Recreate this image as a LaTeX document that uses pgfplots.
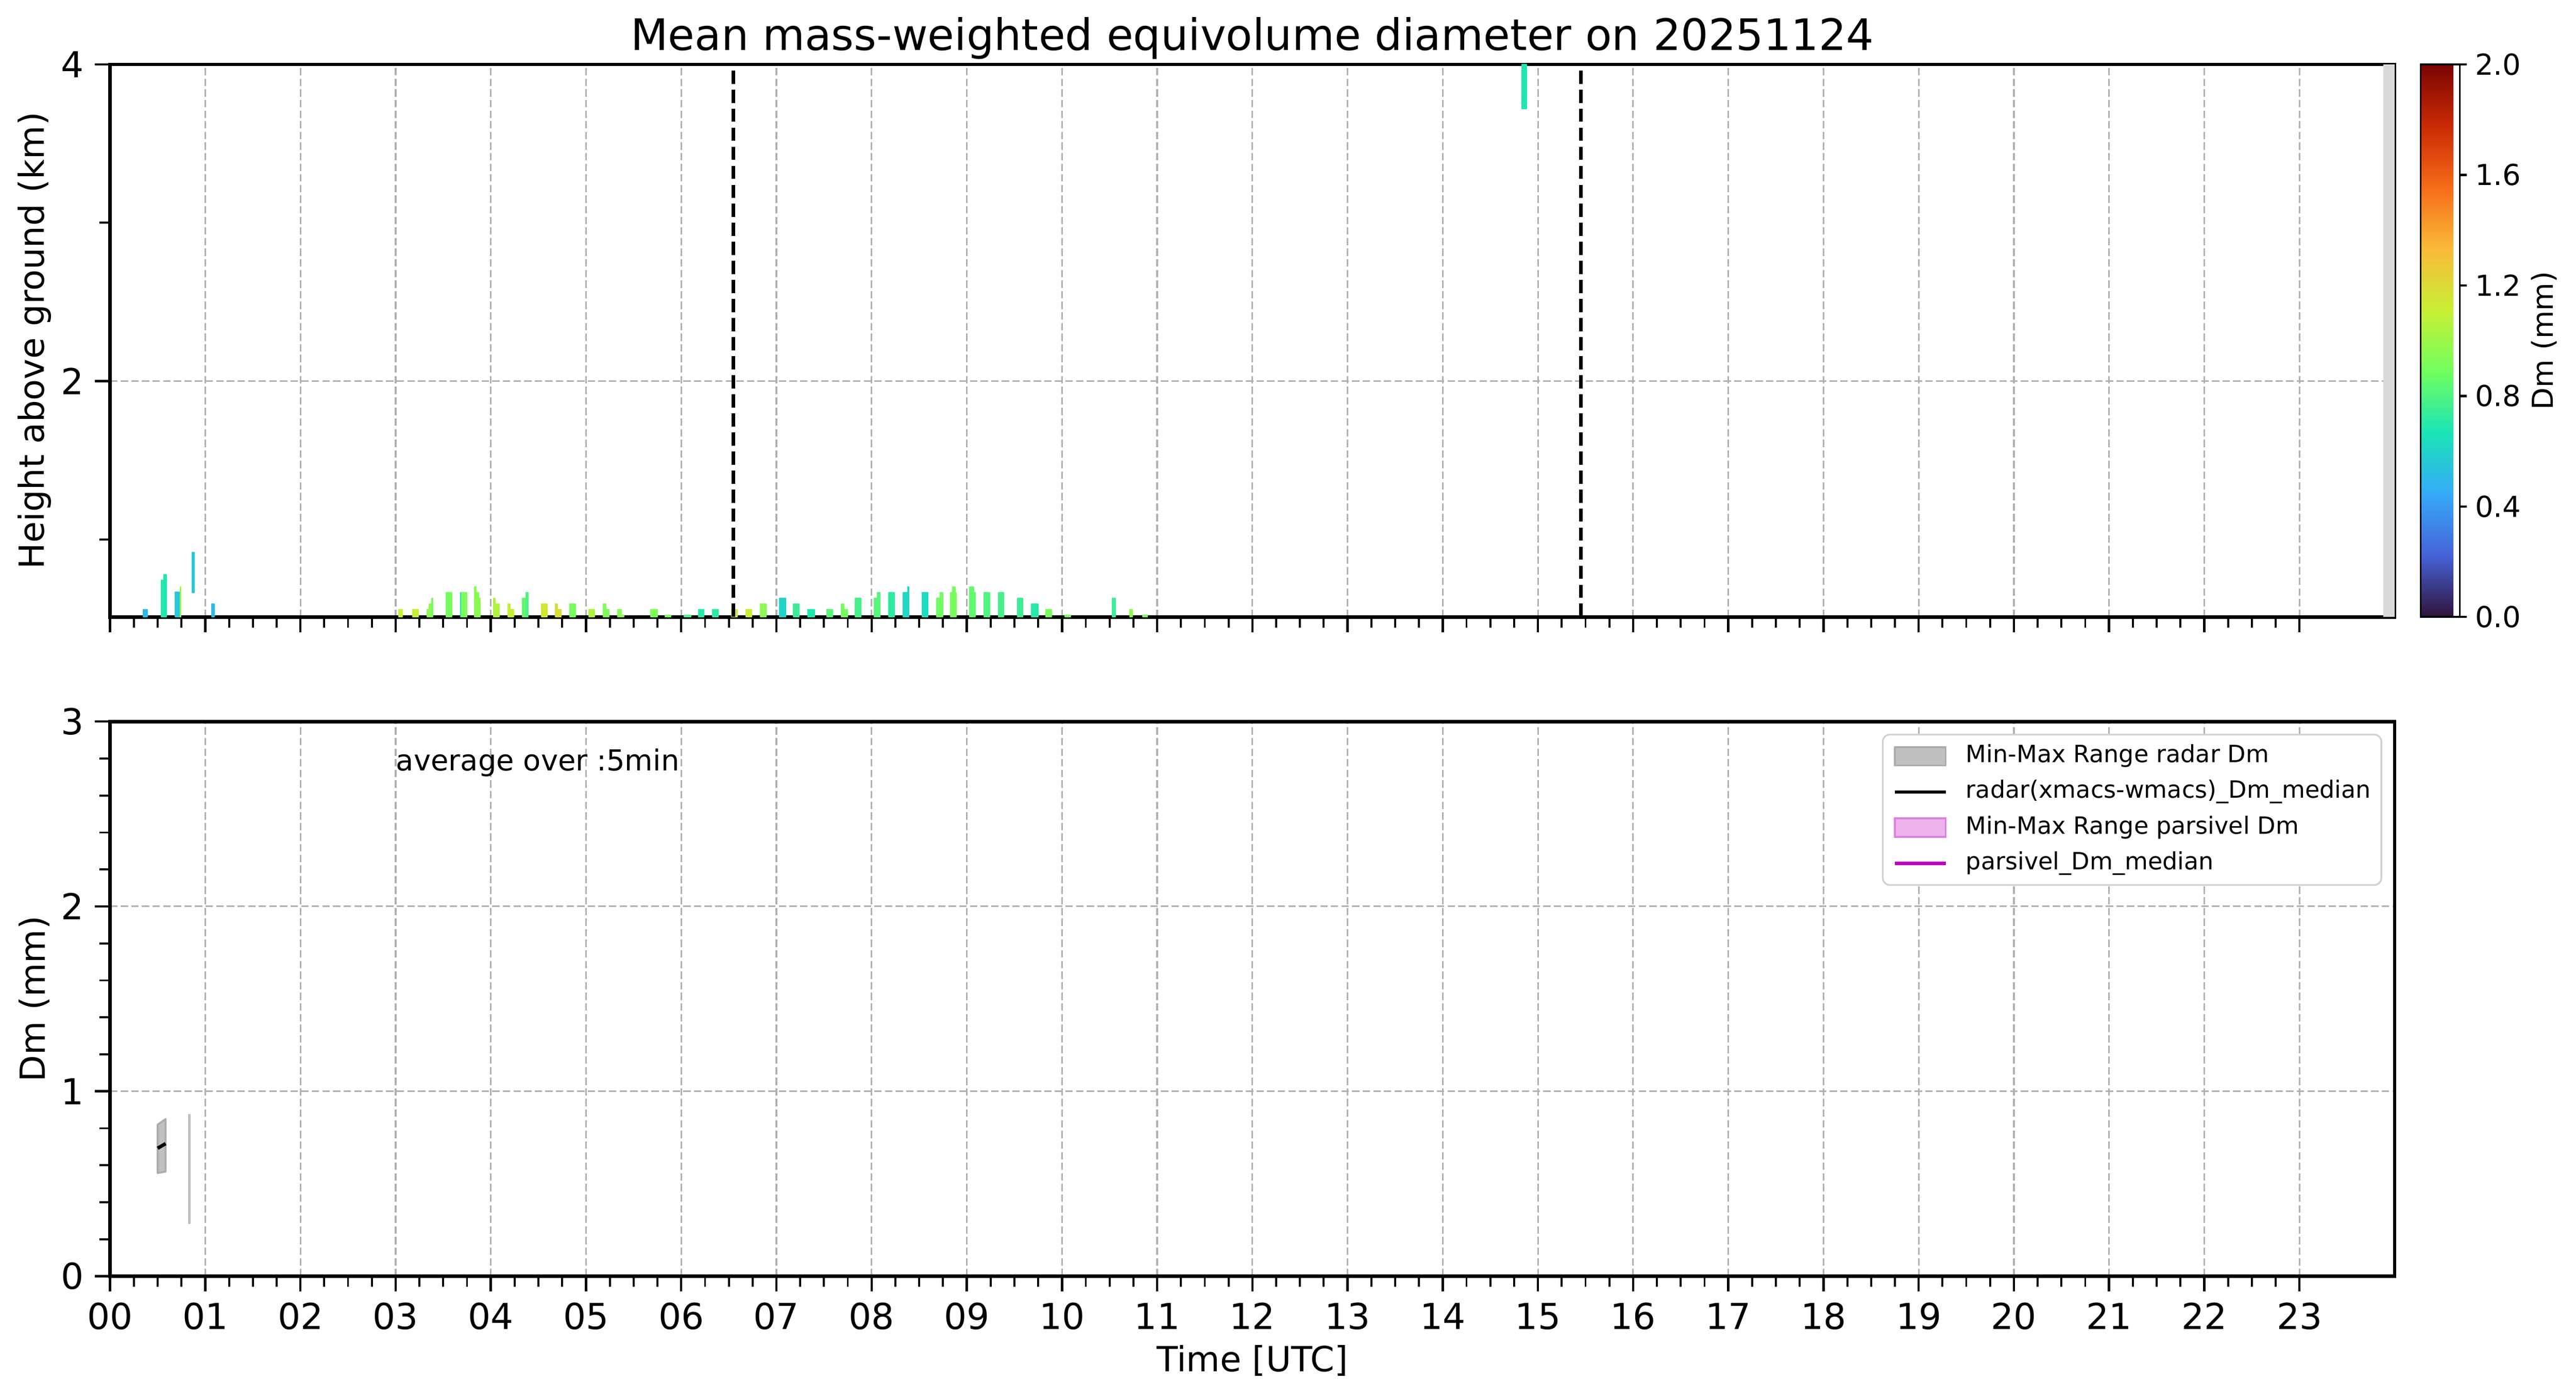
\documentclass[border=0pt]{standalone}
\usepackage{fontspec}
\setmainfont{DejaVu Sans}
\usepackage{pgfplots}
\pgfplotsset{compat=1.18}
\usepgfplotslibrary{patchplots}
\definecolor{gridc}{RGB}{176,176,176}
\definecolor{bandfill}{RGB}{192,192,192}
\definecolor{bandedge}{RGB}{172,172,172}
\definecolor{pinkfill}{RGB}{236,179,236}
\definecolor{pinkedge}{RGB}{224,127,224}
\definecolor{magentaline}{RGB}{191,0,191}
\definecolor{shadec}{RGB}{217,217,217}
\pgfplotsset{
  colormap={turbo}{rgb255=(48,18,59) rgb255=(70,98,215) rgb255=(54,170,249) rgb255=(26,228,182) rgb255=(114,254,94) rgb255=(200,239,52) rgb255=(250,186,57) rgb255=(246,107,25) rgb255=(202,42,4) rgb255=(122,4,3)},
  mainax/.style={
    scale only axis, width=990pt,
    xmin=0, xmax=24,
    xtick={0,1,...,23}, minor x tick num=3,
    tick align=outside, tick pos=left,
    major tick length=6.6pt, minor tick length=4.6pt,
    major tick style={black, line width=1pt},
    minor tick style={black, line width=0.85pt},
    axis line style={black, line width=1.5pt},
    grid=major,
    major grid style={gridc, line width=0.7pt, dash pattern=on 3.2pt off 1.4pt},
    tick label style={font=\fontsize{15.5}{18}\selectfont},
    xticklabel style={anchor=north, inner sep=0pt, yshift=-4.8pt},
    yticklabel style={anchor=east, inner sep=0pt, xshift=-4.5pt},
    label style={font=\fontsize{15}{18}\selectfont},
    ylabel style={at={([xshift=-32.8pt]rel axis cs:0,0.5)}, anchor=center},
  },
  patchlegend/.style={legend image code/.code={\draw[##1, sharp corners, line width=0.85pt] (0pt,-4pt) rectangle (22pt,4pt);}},
  linelegend/.style={legend image code/.code={\draw[##1, sharp corners] (0pt,0pt) -- (22pt,0pt);}},
}
\begin{document}
\begin{tikzpicture}
\useasboundingbox (0,0) rectangle (1116.3pt,604.65pt);
% ---------------- top panel ----------------
\begin{axis}[mainax, name=top,
  height=239.4pt, at={(47.7pt,337.35pt)}, anchor=south west,
  ymin=0.51, ymax=4,
  xticklabels={},
  ytick={2,4}, yticklabels={2,4}, minor ytick={1,3},
  ylabel={Height above ground (km)},
  title={Mean mass-weighted equivolume diameter on 20251124},
  every axis title/.style={at={(0.5,1)}, anchor=base, yshift=6.15pt, font=\fontsize{18.8}{22}\selectfont},
  colorbar, colormap name=turbo,
  point meta min=0, point meta max=2,
  colorbar shift/.style={},
  colorbar style={
    at={(parent axis.north east)}, anchor=north west, xshift=11.25pt,
    scale only axis, width=16.95pt, height=239.4pt,
    ytick={0,0.4,0.8,1.2,1.6,2},
    yticklabels={0.0,0.4,0.8,1.2,1.6,2.0},
    ytick pos=right, yticklabel pos=right,
    tick align=outside,
    major tick length=3pt,
    major tick style={black, line width=1pt},
    axis line style={black, line width=0.8pt},
    yticklabel style={font=\fontsize{12.5}{15}\selectfont, anchor=west, inner sep=0pt, xshift=3.45pt},
    ylabel={Dm (mm)},
    ylabel style={font=\fontsize{12.5}{15}\selectfont, at={([xshift=36.5pt]rel axis cs:1,0.5)}, anchor=center},
  },
]
\addplot[patch, patch type=rectangle, shader=flat, point meta=explicit] table[row sep=\\, meta=c] {
x y c\\
0.35 0.51 0.5\\ 0.39 0.51 0.5\\ 0.39 0.557 0.5\\ 0.35 0.557 0.5\\
0.535 0.51 0.7\\ 0.564 0.51 0.7\\ 0.564 0.742 0.7\\ 0.535 0.742 0.7\\
0.564 0.51 0.68\\ 0.592 0.51 0.68\\ 0.592 0.777 0.68\\ 0.564 0.777 0.68\\
0.683 0.51 0.55\\ 0.735 0.51 0.55\\ 0.735 0.667 0.55\\ 0.683 0.667 0.55\\
0.735 0.51 1.0\\ 0.742 0.51 1.0\\ 0.742 0.70 1.0\\ 0.735 0.70 1.0\\
0.862 0.663 0.55\\ 0.885 0.663 0.55\\ 0.885 0.917 0.55\\ 0.862 0.917 0.55\\
1.07 0.51 0.5\\ 1.095 0.51 0.5\\ 1.095 0.592 0.5\\ 1.07 0.592 0.5\\
3.03 0.51 1.1\\ 3.07 0.51 1.1\\ 3.07 0.557 1.1\\ 3.03 0.557 1.1\\
3.18 0.51 1.1\\ 3.24 0.51 1.1\\ 3.24 0.557 1.1\\ 3.18 0.557 1.1\\
3.33 0.51 0.95\\ 3.35 0.51 0.95\\ 3.35 0.557 0.95\\ 3.33 0.557 0.95\\
3.35 0.51 0.95\\ 3.38 0.51 0.95\\ 3.38 0.592 0.95\\ 3.35 0.592 0.95\\
3.38 0.51 0.9\\ 3.39 0.51 0.9\\ 3.39 0.628 0.9\\ 3.38 0.628 0.9\\
3.53 0.51 0.9\\ 3.59 0.51 0.9\\ 3.59 0.663 0.9\\ 3.53 0.663 0.9\\
3.68 0.51 0.65\\ 3.695 0.51 0.65\\ 3.695 0.663 0.65\\ 3.68 0.663 0.65\\
3.695 0.51 0.92\\ 3.75 0.51 0.92\\ 3.75 0.663 0.92\\ 3.695 0.663 0.92\\
3.83 0.51 0.95\\ 3.845 0.51 0.95\\ 3.845 0.70 0.95\\ 3.83 0.70 0.95\\
3.845 0.51 0.95\\ 3.87 0.51 0.95\\ 3.87 0.663 0.95\\ 3.845 0.663 0.95\\
3.87 0.51 0.95\\ 3.89 0.51 0.95\\ 3.89 0.628 0.95\\ 3.87 0.628 0.95\\
4.03 0.51 1.05\\ 4.045 0.51 1.05\\ 4.045 0.628 1.05\\ 4.03 0.628 1.05\\
4.045 0.51 1.05\\ 4.09 0.51 1.05\\ 4.09 0.592 1.05\\ 4.045 0.592 1.05\\
4.18 0.51 1.1\\ 4.20 0.51 1.1\\ 4.20 0.592 1.1\\ 4.18 0.592 1.1\\
4.20 0.51 1.1\\ 4.24 0.51 1.1\\ 4.24 0.557 1.1\\ 4.20 0.557 1.1\\
4.33 0.51 0.85\\ 4.37 0.51 0.85\\ 4.37 0.628 0.85\\ 4.33 0.628 0.85\\
4.37 0.51 0.8\\ 4.39 0.51 0.8\\ 4.39 0.663 0.8\\ 4.37 0.663 0.8\\
4.53 0.51 1.15\\ 4.59 0.51 1.15\\ 4.59 0.592 1.15\\ 4.53 0.592 1.15\\
4.68 0.51 1.18\\ 4.70 0.51 1.18\\ 4.70 0.592 1.18\\ 4.68 0.592 1.18\\
4.70 0.51 1.18\\ 4.74 0.51 1.18\\ 4.74 0.557 1.18\\ 4.70 0.557 1.18\\
4.83 0.51 0.9\\ 4.89 0.51 0.9\\ 4.89 0.592 0.9\\ 4.83 0.592 0.9\\
5.03 0.51 1.05\\ 5.09 0.51 1.05\\ 5.09 0.557 1.05\\ 5.03 0.557 1.05\\
5.18 0.51 0.92\\ 5.21 0.51 0.92\\ 5.21 0.592 0.92\\ 5.18 0.592 0.92\\
5.21 0.51 0.92\\ 5.24 0.51 0.92\\ 5.24 0.557 0.92\\ 5.21 0.557 0.92\\
5.33 0.51 0.95\\ 5.37 0.51 0.95\\ 5.37 0.557 0.95\\ 5.33 0.557 0.95\\
5.37 0.51 0.95\\ 5.40 0.51 0.95\\ 5.40 0.52 0.95\\ 5.37 0.52 0.95\\
5.68 0.51 0.92\\ 5.75 0.51 0.92\\ 5.75 0.557 0.92\\ 5.68 0.557 0.92\\
5.83 0.51 0.9\\ 5.89 0.51 0.9\\ 5.89 0.52 0.9\\ 5.83 0.52 0.9\\
6.03 0.51 0.8\\ 6.10 0.51 0.8\\ 6.10 0.52 0.8\\ 6.03 0.52 0.8\\
6.18 0.51 0.7\\ 6.24 0.51 0.7\\ 6.24 0.557 0.7\\ 6.18 0.557 0.7\\
6.33 0.51 0.72\\ 6.39 0.51 0.72\\ 6.39 0.557 0.72\\ 6.33 0.557 0.72\\
6.53 0.51 1.15\\ 6.59 0.51 1.15\\ 6.59 0.557 1.15\\ 6.53 0.557 1.15\\
6.68 0.51 1.1\\ 6.74 0.51 1.1\\ 6.74 0.557 1.1\\ 6.68 0.557 1.1\\
6.83 0.51 0.95\\ 6.89 0.51 0.95\\ 6.89 0.592 0.95\\ 6.83 0.592 0.95\\
7.03 0.51 0.6\\ 7.10 0.51 0.6\\ 7.10 0.628 0.6\\ 7.03 0.628 0.6\\
7.18 0.51 0.75\\ 7.24 0.51 0.75\\ 7.24 0.592 0.75\\ 7.18 0.592 0.75\\
7.33 0.51 0.68\\ 7.40 0.51 0.68\\ 7.40 0.557 0.68\\ 7.33 0.557 0.68\\
7.53 0.51 0.82\\ 7.59 0.51 0.82\\ 7.59 0.557 0.82\\ 7.53 0.557 0.82\\
7.68 0.51 0.9\\ 7.71 0.51 0.9\\ 7.71 0.592 0.9\\ 7.68 0.592 0.9\\
7.71 0.51 0.9\\ 7.75 0.51 0.9\\ 7.75 0.557 0.9\\ 7.71 0.557 0.9\\
7.83 0.51 0.78\\ 7.89 0.51 0.78\\ 7.89 0.628 0.78\\ 7.83 0.628 0.78\\
8.03 0.51 0.82\\ 8.06 0.51 0.82\\ 8.06 0.628 0.82\\ 8.03 0.628 0.82\\
8.06 0.51 0.82\\ 8.09 0.51 0.82\\ 8.09 0.663 0.82\\ 8.06 0.663 0.82\\
8.18 0.51 0.72\\ 8.24 0.51 0.72\\ 8.24 0.663 0.72\\ 8.18 0.663 0.72\\
8.33 0.51 0.62\\ 8.38 0.51 0.62\\ 8.38 0.663 0.62\\ 8.33 0.663 0.62\\
8.38 0.51 0.6\\ 8.39 0.51 0.6\\ 8.39 0.70 0.6\\ 8.38 0.70 0.6\\
8.53 0.51 0.64\\ 8.59 0.51 0.64\\ 8.59 0.663 0.64\\ 8.53 0.663 0.64\\
8.68 0.51 0.88\\ 8.72 0.51 0.88\\ 8.72 0.628 0.88\\ 8.68 0.628 0.88\\
8.72 0.51 0.88\\ 8.75 0.51 0.88\\ 8.75 0.663 0.88\\ 8.72 0.663 0.88\\
8.83 0.51 0.9\\ 8.85 0.51 0.9\\ 8.85 0.663 0.9\\ 8.83 0.663 0.9\\
8.85 0.51 0.9\\ 8.88 0.51 0.9\\ 8.88 0.70 0.9\\ 8.85 0.70 0.9\\
8.88 0.51 0.9\\ 8.89 0.51 0.9\\ 8.89 0.663 0.9\\ 8.88 0.663 0.9\\
9.03 0.51 0.85\\ 9.075 0.51 0.85\\ 9.075 0.70 0.85\\ 9.03 0.70 0.85\\
9.075 0.51 0.85\\ 9.09 0.51 0.85\\ 9.09 0.663 0.85\\ 9.075 0.663 0.85\\
9.18 0.51 0.8\\ 9.24 0.51 0.8\\ 9.24 0.663 0.8\\ 9.18 0.663 0.8\\
9.33 0.51 0.78\\ 9.39 0.51 0.78\\ 9.39 0.663 0.78\\ 9.33 0.663 0.78\\
9.53 0.51 0.75\\ 9.59 0.51 0.75\\ 9.59 0.628 0.75\\ 9.53 0.628 0.75\\
9.68 0.51 0.7\\ 9.75 0.51 0.7\\ 9.75 0.592 0.7\\ 9.68 0.592 0.7\\
9.83 0.51 0.9\\ 9.89 0.51 0.9\\ 9.89 0.557 0.9\\ 9.83 0.557 0.9\\
10.03 0.51 0.9\\ 10.09 0.51 0.9\\ 10.09 0.52 0.9\\ 10.03 0.52 0.9\\
10.53 0.51 0.75\\ 10.56 0.51 0.75\\ 10.56 0.628 0.75\\ 10.53 0.628 0.75\\
10.71 0.51 0.95\\ 10.74 0.51 0.95\\ 10.74 0.557 0.95\\ 10.71 0.557 0.95\\
10.85 0.51 0.9\\ 10.90 0.51 0.9\\ 10.90 0.52 0.9\\ 10.85 0.52 0.9\\
14.83 3.72 0.68\\ 14.88 3.72 0.68\\ 14.88 4.0 0.68\\ 14.83 4.0 0.68\\
};
\addplot[fill=shadec, draw=none] coordinates {(23.88,0.51) (24,0.51) (24,4) (23.88,4)} --cycle;
\addplot[black, line width=1.6pt, dash pattern=on 5.75pt off 2.5pt] coordinates {(6.55,0.51) (6.55,4)};
\addplot[black, line width=1.6pt, dash pattern=on 5.75pt off 2.5pt] coordinates {(15.45,0.51) (15.45,4)};
\end{axis}
% ---------------- bottom panel ----------------
\begin{axis}[mainax,
  height=240.3pt, at={(47.7pt,51.75pt)}, anchor=south west,
  ymin=0, ymax=3,
  xticklabels={00,01,02,03,04,05,06,07,08,09,10,11,12,13,14,15,16,17,18,19,20,21,22,23},
  ytick={0,1,2,3}, yticklabels={0,1,2,3}, minor y tick num=4,
  xlabel={Time [UTC]},
  xlabel style={at={([yshift=-41.4pt]rel axis cs:0.5,0)}, anchor=base},
  ylabel={Dm (mm)},
  legend cell align=left,
  legend style={at={(1,1)}, anchor=north east, xshift=-5.4pt, yshift=-5.3pt,
    draw=black!18, line width=0.75pt, rounded corners=3pt, fill=white,
    font=\fontsize{10.3}{12}\selectfont,
    inner xsep=4.5pt, inner ysep=4.3pt, row sep=5.25pt, column sep=8pt,
    cells={anchor=west},
    nodes={inner sep=0pt, text height=7.8pt, text depth=2.4pt}},
]
\addplot[fill=bandfill, draw=bandedge, line width=0.86pt, line join=round, patchlegend] coordinates {(0.5,0.558) (0.5833,0.566) (0.5833,0.85) (0.5,0.819)} --cycle;
\addlegendentry{Min-Max Range radar Dm}
\addplot[black, line width=1.5pt, linelegend] coordinates {(0.5,0.692) (0.5833,0.717)};
\addlegendentry{radar(xmacs-wmacs)\_Dm\_median}
\addlegendimage{fill=pinkfill, draw=pinkedge, patchlegend}
\addlegendentry{Min-Max Range parsivel Dm}
\addlegendimage{magentaline, line width=1.5pt, linelegend}
\addlegendentry{parsivel\_Dm\_median}
\addplot[bandfill, line width=1pt, forget plot] coordinates {(0.8333,0.282) (0.8333,0.876)};
\node[anchor=base west, inner sep=0pt, font=\fontsize{12.5}{15}\selectfont] at (axis cs:3.0,2.735) {average over :5min};
\end{axis}
\end{tikzpicture}
\end{document}
